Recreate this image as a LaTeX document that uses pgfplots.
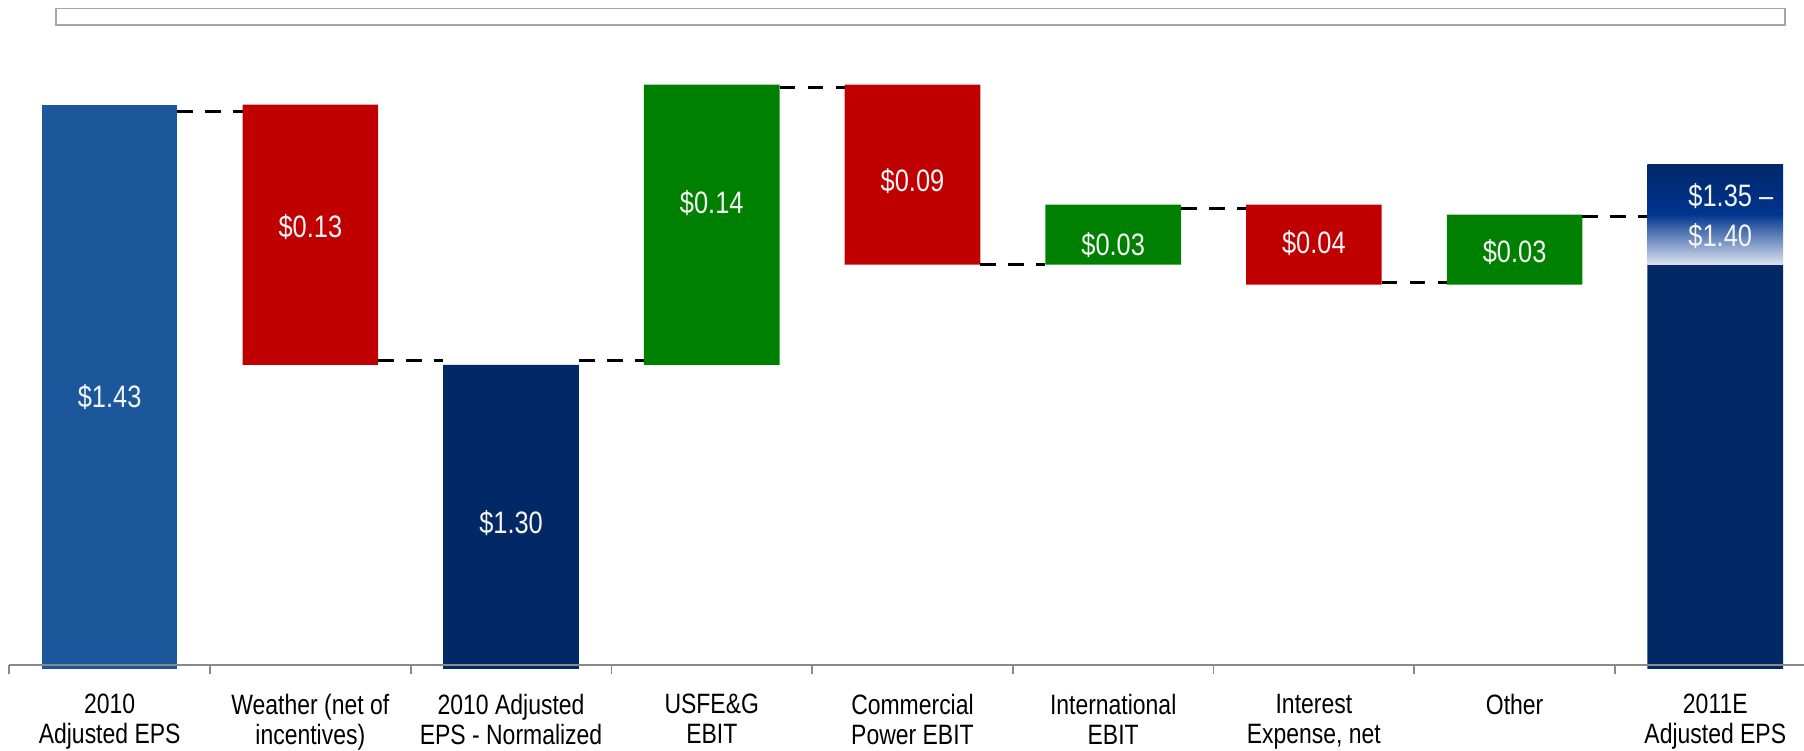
\documentclass[border=0pt]{standalone}
\usepackage{fontspec}
\setmainfont{Liberation Sans}[FakeStretch=0.82]
\usepackage{pgfplots}
\pgfplotsset{compat=1.18}

\definecolor{cblue}{RGB}{28,87,155}
\definecolor{cnavy}{RGB}{2,41,102}
\definecolor{cred}{RGB}{192,0,0}
\definecolor{cgreen}{RGB}{0,128,0}
\definecolor{gtop}{RGB}{0,40,108}
\definecolor{gmid}{RGB}{0,52,142}
\definecolor{gbot}{RGB}{222,228,241}
\definecolor{axgray}{RGB}{137,137,137}
\definecolor{boxgray}{RGB}{166,166,166}
\definecolor{lbl}{RGB}{245,245,245}

\pgfplotsset{common/.style={scale only axis, width=897.35pt, height=334.5pt,
  xmin=-0.5, xmax=8.442, ymin=1.148, ymax=1.4823, at={(0,0)}, anchor=south west},
  conn/.style={black, line width=1.5pt, dash pattern=on 7.8pt off 6.2pt, no markers}}

\begin{document}
\begin{tikzpicture}
% main bars
\begin{axis}[common, ybar stacked, bar width=0.676, axis on top,
  axis x line=bottom, axis y line=none, ytick=\empty,
  x axis line style={draw=axgray, line width=0.85pt, -, yshift=2pt},
  xtick={0,...,8},
  xticklabels={{2010\\Adjusted EPS},{Weather (net of\\incentives)},{2010 Adjusted\\EPS - Normalized},{USFE\&G\\EBIT},{Commercial\\Power EBIT},{International\\EBIT},{Interest\\Expense, net},{Other},{2011E\\Adjusted EPS}},
  major tick length=0pt,
  minor xtick={-0.5,0.5,...,7.5},
  minor tick length=4.35pt,
  minor x tick style={draw=axgray, line width=0.85pt, yshift=2pt},
  tick align=outside,
  xticklabel style={align=center, font=\fontsize{14}{15}\selectfont, anchor=north, inner sep=0pt, yshift=-12.5pt},
]
\addplot[draw=none, fill=none] coordinates {(0,0) (1,1.30) (2,0) (3,1.30) (4,1.35) (5,1.35) (6,1.34) (7,1.34) (8,0)};
\addplot[draw=none, fill=cblue] coordinates {(0,1.43) (1,0) (2,0) (3,0) (4,0) (5,0) (6,0) (7,0) (8,0)};
\addplot[draw=none, fill=cnavy] coordinates {(0,0) (1,0) (2,1.30) (3,0) (4,0) (5,0) (6,0) (7,0) (8,1.35)};
\addplot[draw=none, fill=cred] coordinates {(0,0) (1,0.13) (2,0) (3,0) (4,0.09) (5,0) (6,0.04) (7,0) (8,0)};
\addplot[draw=none, fill=cgreen] coordinates {(0,0) (1,0) (2,0) (3,0.14) (4,0) (5,0.03) (6,0) (7,0.035) (8,0)};
\end{axis}
% gradient range segment (1.35 to 1.40), in two shaded parts
\begin{axis}[common, hide axis, ybar stacked, bar width=0.676]
\addplot[draw=none, fill=none] coordinates {(8,1.35)};
\addplot[draw=none, top color=gmid, bottom color=gbot] coordinates {(8,0.0255)};
\addplot[draw=none, top color=gtop, bottom color=gmid] coordinates {(8,0.0245)};
\end{axis}
% connectors and labels
\begin{axis}[common, hide axis]
\addplot[conn] coordinates {(0.338,1.4266) (0.662,1.4266)};
\addplot[conn] coordinates {(1.338,1.3024) (1.662,1.3024)};
\addplot[conn] coordinates {(2.338,1.3024) (2.662,1.3024)};
\addplot[conn] coordinates {(3.338,1.4385) (3.662,1.4385)};
\addplot[conn] coordinates {(4.338,1.3501) (4.662,1.3501)};
\addplot[conn] coordinates {(5.338,1.3783) (5.662,1.3783)};
\addplot[conn] coordinates {(6.338,1.341) (6.662,1.341)};
\addplot[conn] coordinates {(7.338,1.374) (7.662,1.374)};
\begin{scope}[every node/.style={text=lbl, font=\fontsize{15.5}{20}\selectfont, inner sep=0pt}]
\node at (axis cs:0,1.284) {\$1.43};
\node at (axis cs:1,1.369) {\$0.13};
\node at (axis cs:2,1.2207) {\$1.30};
\node at (axis cs:3,1.3806) {\$0.14};
\node at (axis cs:4,1.392) {\$0.09};
\node at (axis cs:5,1.36) {\$0.03};
\node at (axis cs:6,1.361) {\$0.04};
\node at (axis cs:7,1.3564) {\$0.03};
\node[anchor=west, align=left] at (axis cs:7.864,1.3745) {\$1.35 –\\\$1.40};
\end{scope}
\end{axis}
\draw[draw=boxgray, line width=0.65pt] (23.35pt,322pt) rectangle (887.85pt,330.35pt);
\pgfresetboundingbox
\path (-4.65pt,-40.5pt) rectangle (897.35pt,334.5pt);
\end{tikzpicture}
\end{document}
